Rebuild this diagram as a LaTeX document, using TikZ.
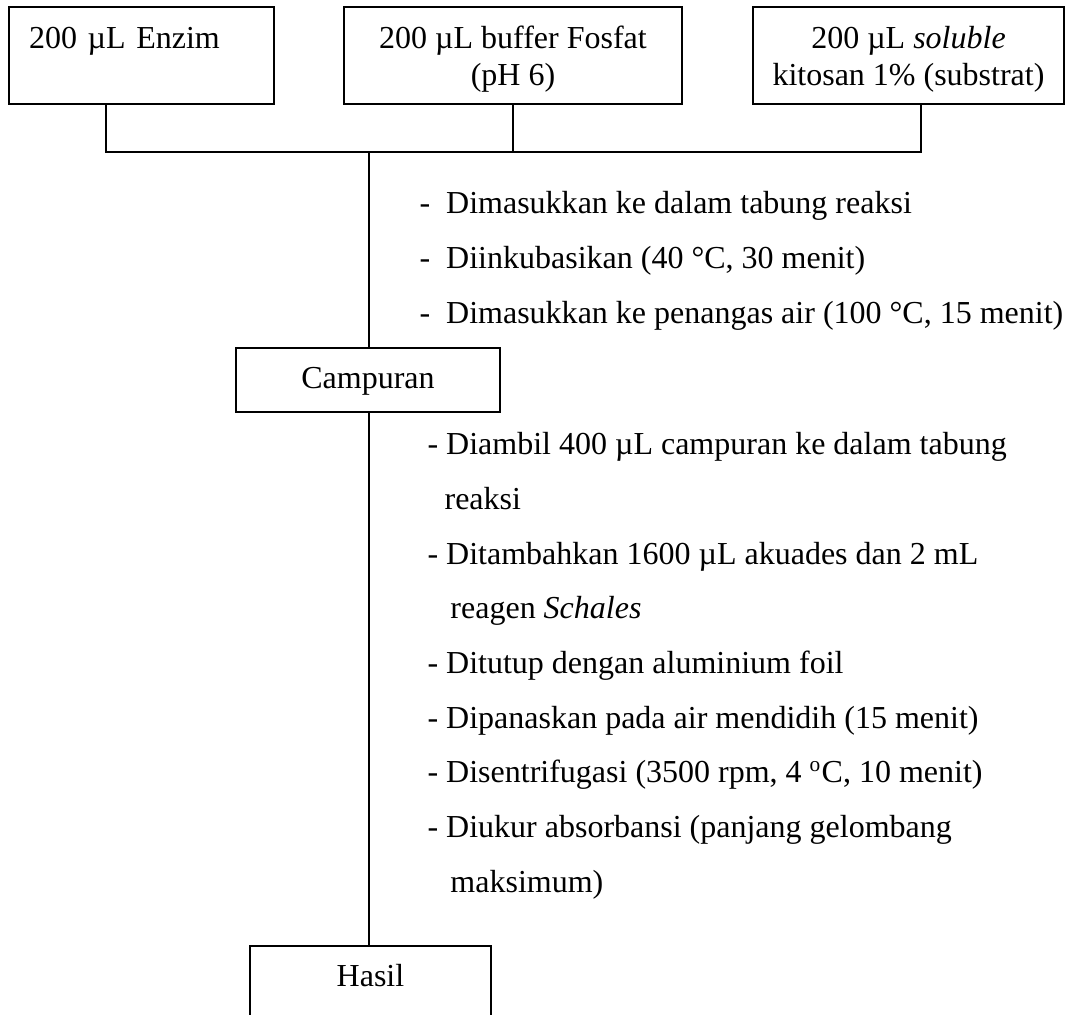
\documentclass[tikz,border=0pt]{standalone}
\usepackage{fontspec}
\setmainfont{Liberation Serif}
\usetikzlibrary{positioning}

\begin{document}
\begin{tikzpicture}[
    x=0.375pt, y=-0.375pt,
    box/.style={draw, line width=0.5pt, align=center, inner sep=0pt, minimum height=36.375pt,
      text height=22.125pt, text depth=0pt, font=\fontsize{12}{13.875}\selectfont},
    steps/.style={anchor=base west, align=left, inner sep=0pt, font=\fontsize{12}{20.5}\selectfont},
    link/.style={line width=0.7pt}
  ]
    \useasboundingbox (0,0) rectangle (1076,1014);

    \node[box, minimum width=99.375pt, text width=84.375pt, align=left, text height=8.25pt, text depth=13.875pt] (enzim) at (141.5,55.5) {\mbox{200 µL Enzim}};
    \node[box, minimum width=126.75pt] (buffer) at (513,55.5) {200 µL buffer Fosfat\\(pH 6)};
    \node[box, minimum width=116.625pt] (kitosan) at (908.5,55.5) {200 µL \textit{soluble}\\kitosan 1\% (substrat)};

    \node[box, minimum width=99pt, minimum height=24pt, text height=8.25pt, text depth=2.25pt] (mix) at (368,380) {Campuran};
    \node[box, minimum width=90.375pt, minimum height=30pt, text height=8.25pt, text depth=8.25pt] (hasil) at (370.5,986) {Hasil};

    \coordinate (busW) at (106,152);
    \coordinate (busE) at (921,152);
    \coordinate (hub) at (369,152);

    \draw[link] (enzim.south -| busW) -- (busW) -- (busE) -- (kitosan.south -| busE);
    \draw[link] (buffer.south) -- (buffer.south |- busW);
    \draw[link] (hub) -- (hub |- mix.north);
    \draw[link] (mix.south -| hub) -- (hub |- hasil.north);

    % langkah sebelum dan sesudah campuran (anchor = baris terakhir)
    \node[steps] (prep) at (419,323) {-\ \ Dimasukkan ke dalam tabung reaksi\\
      -\ \ Diinkubasikan (40 °C, 30 menit)\\
      -\ \ Dimasukkan ke penangas air (100 °C, 15 menit)};
    \node[steps] (assay) at (427,892) {- Diambil 400 µL campuran ke dalam tabung\\
      \hspace*{6.4pt}reaksi\\
      - Ditambahkan 1600 µL akuades dan 2 mL\\
      \hspace*{8.6pt}reagen \textit{Schales}\\
      - Ditutup dengan aluminium foil\\
      - Dipanaskan pada air mendidih (15 menit)\\
      - Disentrifugasi (3500 rpm, 4 \textsuperscript{o}C, 10 menit)\\
      - Diukur absorbansi (panjang gelombang\\
      \hspace*{8.6pt}maksimum)};
  \end{tikzpicture}
\end{document}
